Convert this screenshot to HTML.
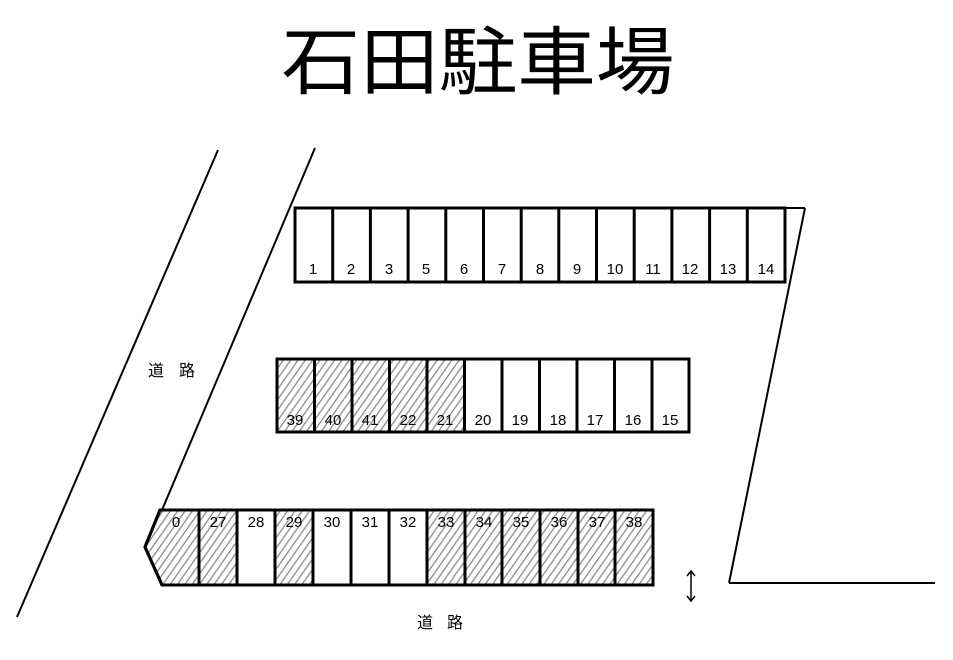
<!DOCTYPE html>
<html><head><meta charset="utf-8"><style>html,body{margin:0;padding:0;background:#fff}</style></head>
<body>
<svg width="953" height="655" xmlns="http://www.w3.org/2000/svg" font-family="Liberation Sans, Noto Sans CJK JP, sans-serif">
<defs>
<pattern id="h" patternUnits="userSpaceOnUse" width="6" height="6" patternTransform="rotate(35)">
<rect width="6" height="6" fill="#fff"/>
<line x1="0" y1="0" x2="0" y2="6" stroke="#888" stroke-width="2.5"/>
</pattern>
</defs>
<rect width="953" height="655" fill="#fff"/>
<text x="478" y="88" font-family="Noto Sans CJK JP, sans-serif" font-size="74" text-anchor="middle" textLength="393" lengthAdjust="spacingAndGlyphs">石田駐車場</text>
<g stroke="#000" stroke-width="2" fill="none">
<line x1="218" y1="150" x2="17" y2="617"/>
<line x1="315" y1="148" x2="162" y2="510"/>
<line x1="805" y1="208" x2="729" y2="583"/>
<line x1="729" y1="583" x2="935" y2="583"/>
<line x1="785" y1="208" x2="805" y2="208"/>
</g>
<g stroke="#000" stroke-width="3">
<rect x="295" y="208" width="490" height="74" fill="#fff"/>
<rect x="277" y="359" width="189" height="73" fill="url(#h)" stroke="none"/>
<rect x="277" y="359" width="412" height="73" fill="none"/>
<polygon points="160,510 145,547 162,585 199,585 199,510" fill="url(#h)"/>
<rect x="199" y="510" width="38" height="75" fill="url(#h)"/>
<rect x="275" y="510" width="38" height="75" fill="url(#h)"/>
<rect x="427" y="510" width="226" height="75" fill="url(#h)"/>
<rect x="199" y="510" width="454" height="75" fill="none"/>
<polygon points="160,510 145,547 162,585 199,585 199,510" fill="none"/>
</g>
<g stroke="#000" stroke-width="3">
<line x1="332.7" y1="208" x2="332.7" y2="282"/><line x1="370.4" y1="208" x2="370.4" y2="282"/><line x1="408.1" y1="208" x2="408.1" y2="282"/><line x1="445.8" y1="208" x2="445.8" y2="282"/><line x1="483.5" y1="208" x2="483.5" y2="282"/><line x1="521.2" y1="208" x2="521.2" y2="282"/><line x1="558.8" y1="208" x2="558.8" y2="282"/><line x1="596.5" y1="208" x2="596.5" y2="282"/><line x1="634.2" y1="208" x2="634.2" y2="282"/><line x1="671.9" y1="208" x2="671.9" y2="282"/><line x1="709.6" y1="208" x2="709.6" y2="282"/><line x1="747.3" y1="208" x2="747.3" y2="282"/>
<line x1="314.5" y1="359" x2="314.5" y2="432"/><line x1="352" y1="359" x2="352" y2="432"/><line x1="389.5" y1="359" x2="389.5" y2="432"/><line x1="427" y1="359" x2="427" y2="432"/><line x1="464.5" y1="359" x2="464.5" y2="432"/><line x1="502" y1="359" x2="502" y2="432"/><line x1="539.5" y1="359" x2="539.5" y2="432"/><line x1="577" y1="359" x2="577" y2="432"/><line x1="614.5" y1="359" x2="614.5" y2="432"/><line x1="652" y1="359" x2="652" y2="432"/>
<line x1="237" y1="510" x2="237" y2="585"/><line x1="275" y1="510" x2="275" y2="585"/><line x1="313" y1="510" x2="313" y2="585"/><line x1="351" y1="510" x2="351" y2="585"/><line x1="389" y1="510" x2="389" y2="585"/><line x1="427" y1="510" x2="427" y2="585"/><line x1="465" y1="510" x2="465" y2="585"/><line x1="502" y1="510" x2="502" y2="585"/><line x1="540" y1="510" x2="540" y2="585"/><line x1="578" y1="510" x2="578" y2="585"/><line x1="615" y1="510" x2="615" y2="585"/>
</g>
<g font-size="15" text-anchor="middle" fill="#000">
<text x="313" y="274">1</text><text x="351" y="274">2</text><text x="389" y="274">3</text><text x="426" y="274">5</text><text x="464" y="274">6</text><text x="502" y="274">7</text><text x="540" y="274">8</text><text x="577" y="274">9</text><text x="615" y="274">10</text><text x="653" y="274">11</text><text x="690" y="274">12</text><text x="728" y="274">13</text><text x="766" y="274">14</text>
<text x="295" y="425">39</text><text x="333" y="425">40</text><text x="370" y="425">41</text><text x="408" y="425">22</text><text x="445" y="425">21</text><text x="483" y="425">20</text><text x="520" y="425">19</text><text x="558" y="425">18</text><text x="595" y="425">17</text><text x="633" y="425">16</text><text x="670" y="425">15</text>
<text x="176" y="527">0</text><text x="218" y="527">27</text><text x="256" y="527">28</text><text x="294" y="527">29</text><text x="332" y="527">30</text><text x="370" y="527">31</text><text x="408" y="527">32</text><text x="446" y="527">33</text><text x="484" y="527">34</text><text x="521" y="527">35</text><text x="559" y="527">36</text><text x="597" y="527">37</text><text x="634" y="527">38</text>
</g>
<g font-size="16" font-family="Noto Sans CJK JP, sans-serif" fill="#000">
<text x="148" y="376" textLength="47" lengthAdjust="spacing">道 路</text>
<text x="417" y="628" textLength="46" lengthAdjust="spacing">道 路</text>
</g>
<g stroke="#000" stroke-width="1.5" fill="none">
<line x1="691" y1="572" x2="691" y2="600"/>
<polyline points="687,576 691,571 695,576"/>
<polyline points="687,596 691,601 695,596"/>
</g>
</svg>
</body></html>
